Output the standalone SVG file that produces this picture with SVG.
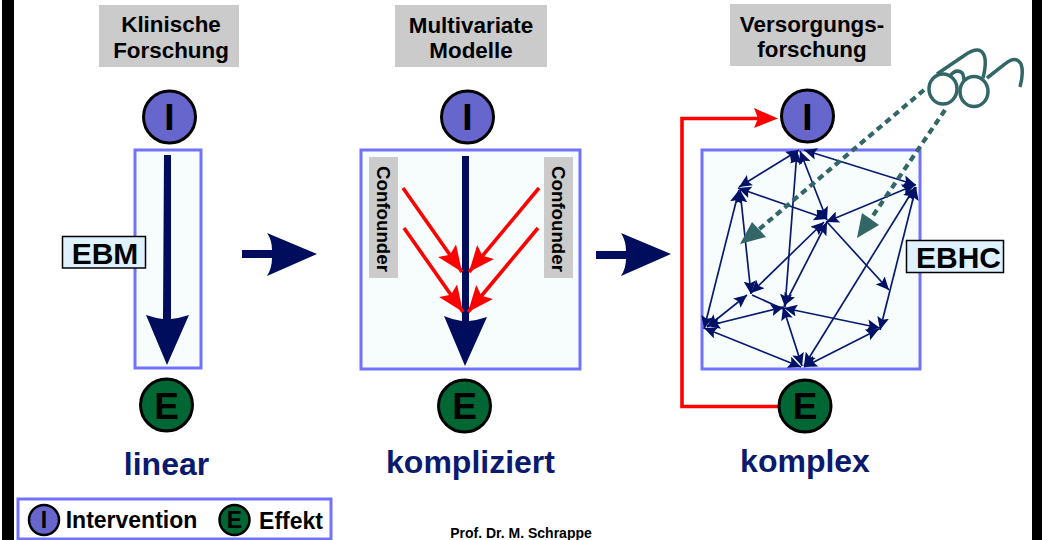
<svg xmlns="http://www.w3.org/2000/svg" width="1042" height="540" viewBox="0 0 1042 540">
<style>
text{font-family:"Liberation Sans",Arial,sans-serif;font-weight:700;text-anchor:middle;fill:#000}
.box{fill:#f7fdfd;stroke:#7272ff;stroke-width:3}
.hdr{fill:#cbcbcb}
.h{font-size:22.4px}
.i{fill:#6666cc;stroke:#000;stroke-width:3}
.e{fill:#006633;stroke:#000;stroke-width:3}
.cl{font-size:37px}
.big{font-size:32px;fill:#0a1a6e}
.tag{fill:#dff1ff;stroke:#000;stroke-width:1.5}
.tagt{font-size:30px}
.conf{font-size:18.7px}
.net line{stroke:#0a1a6e;stroke-width:1.7}
.bi{marker-start:url(#n);marker-end:url(#n)}
.si{marker-end:url(#n)}
.red{stroke:#f00;stroke-width:3.6;fill:none}
.dash{stroke:#336666;stroke-width:4.200;stroke-dasharray:6.500 4.500;fill:none}
</style>
<defs>
<marker id="n" markerUnits="userSpaceOnUse" markerWidth="14" markerHeight="12" refX="13" refY="6" orient="auto-start-reverse"><path d="M0 0L13 6L0 12L2.500 6Z" fill="#001166"/></marker>
<marker id="r" markerUnits="userSpaceOnUse" markerWidth="27" markerHeight="24" refX="26" refY="11" orient="auto"><path d="M0 0L26 11L0 22L5 11Z" fill="#f00"/></marker>
</defs>
<rect width="1042" height="540" fill="#fff"/>
<rect x="2" y="0" width="12" height="540" fill="#000"/>
<rect x="1032" y="0" width="10" height="540" fill="#000"/>

<g id="col1">
<rect class="hdr" x="99" y="5" width="140" height="62"/>
<text class="h" x="171" y="32">Klinische</text>
<text class="h" x="171" y="58">Forschung</text>
<rect class="box" x="135" y="150" width="66" height="218"/>
<path d="M164 155H171V319Q180 318 189 315L167 365L146 315Q155 318 163 319Z" fill="#000c5c"/>
<g id="i1"><circle class="i" cx="169.500" cy="117" r="26"/><text class="cl" x="169.500" y="130">I</text></g>
<g id="e1"><circle class="e" cx="166.500" cy="405" r="26"/><text class="cl" x="166.500" y="419">E</text></g>
<g id="ebm"><rect class="tag" x="62.500" y="236.500" width="83" height="31.500"/><text class="tagt" x="105" y="263.500">EBM</text></g>
<text class="big" x="166.500" y="475">linear</text>
</g>
<path id="arrow1" d="M242 250H272Q272 240 267 233L317 254L267 276Q272 268 272 258H242Z" fill="#000c5c"/>

<g id="col2">
<rect class="hdr" x="395" y="5" width="152" height="62"/>
<text class="h" x="471" y="33">Multivariate</text>
<text class="h" x="471" y="58">Modelle</text>
<rect class="box" x="361" y="150" width="219" height="219"/>
<rect class="hdr" x="369" y="157" width="29" height="121"/>
<rect class="hdr" x="544" y="157" width="29" height="121"/>
<text class="conf" transform="translate(377 219) rotate(90)">Confounder</text>
<text class="conf" transform="translate(552 219) rotate(90)">Confounder</text>
<path d="M462 156H469V321Q478 320 487 317L465 366L444 316Q453 320 462 321Z" fill="#000c5c"/>
<line class="red" x1="403" y1="188" x2="462" y2="272" marker-end="url(#r)"/>
<line class="red" x1="404" y1="228" x2="463" y2="312" marker-end="url(#r)"/>
<line class="red" x1="539" y1="188" x2="469" y2="272" marker-end="url(#r)"/>
<line class="red" x1="538" y1="228" x2="468" y2="312" marker-end="url(#r)"/>
<g id="i2"><circle class="i" cx="467.500" cy="117" r="26"/><text class="cl" x="467.500" y="130">I</text></g>
<g id="e2"><circle class="e" cx="464.500" cy="406" r="26"/><text class="cl" x="464.500" y="419">E</text></g>
<text class="big" x="470.500" y="473">kompliziert</text>
</g>
<path id="arrow2" d="M596 251H626Q626 241 621 233L671 254L621 276Q626 268 626 259H596Z" fill="#000c5c"/>

<g id="col3">
<rect class="hdr" x="730" y="4" width="161" height="62"/>
<text class="h" x="812" y="32">Versorgungs-</text>
<text class="h" x="812" y="57">forschung</text>
<rect class="box" x="702" y="150" width="218" height="219"/>
<g id="connectors" class="net">
<line class="bi" x1="739" y1="187" x2="799" y2="150"/>
<line class="bi" x1="797" y1="151" x2="785" y2="307"/>
<line class="bi" x1="800" y1="151" x2="827" y2="220"/>
<line class="bi" x1="804" y1="150" x2="916" y2="185"/>
<line class="bi" x1="738" y1="188" x2="827" y2="219"/>
<line class="bi" x1="740" y1="190" x2="751" y2="294"/>
<line class="bi" x1="739" y1="190" x2="704" y2="329"/>
<line class="bi" x1="826" y1="222" x2="915" y2="185"/>
<line class="si" x1="827" y1="222" x2="889" y2="290"/>
<line class="bi" x1="824" y1="222" x2="751" y2="293"/>
<line class="bi" x1="827" y1="222" x2="784" y2="306"/>
<line class="bi" x1="915" y1="187" x2="804" y2="366"/>
<line class="bi" x1="916" y1="187" x2="880" y2="330"/>
<line x1="752" y1="295" x2="783" y2="309"/>
<line class="bi" x1="747" y1="295" x2="707" y2="327"/>
<line class="bi" x1="784" y1="307" x2="707" y2="326"/>
<line class="bi" x1="784" y1="308" x2="880" y2="328"/>
<line class="bi" x1="783" y1="307" x2="802" y2="366"/>
<line class="bi" x1="704" y1="328" x2="801" y2="367"/>
<line class="bi" x1="879" y1="329" x2="804" y2="367"/>
</g>
<path class="red" d="M770 118.500H682V406.500H780" stroke-width="4.200"/>
<path d="M754 108L778 118.500L754 128L758 118.500Z" fill="#f00"/>
<g id="i3"><circle class="i" cx="807.500" cy="116" r="26"/><text class="cl" x="807.500" y="130">I</text></g>
<g id="e3"><circle class="e" cx="805" cy="406" r="26"/><text class="cl" x="805" y="419">E</text></g>
<g id="ebhc"><rect class="tag" x="906.500" y="240.500" width="97" height="32"/><text class="tagt" x="958.500" y="267.500">EBHC</text></g>
<text class="big" x="805" y="472">komplex</text>
<g id="glasses" fill="none" stroke="#336666" stroke-width="3.500">
<ellipse cx="943" cy="89" rx="14" ry="15"/><ellipse cx="974" cy="91.500" rx="14" ry="15"/>
<path d="M950 76Q955 69 961 72Q964 74 964 81"/>
<path d="M937 74L965 55Q977 47 982 52Q988 58 983 78"/>
<path d="M987 78L1005 64Q1016 55 1021 64Q1024 72 1020 87"/>
</g>
<path class="dash" d="M924 90L757 231"/>
<path class="dash" d="M945 110L870 220"/>
<path d="M752 222L766 237L740 244Z" fill="#336666"/>
<path d="M862 213L879 225L857 238Z" fill="#336666"/>
</g>

<g id="legend">
<rect x="18" y="499" width="313" height="40" fill="#fff" stroke="#7272ff" stroke-width="3"/>
<g id="li"><circle cx="44" cy="520" r="15" fill="#6666cc" stroke="#000" stroke-width="2.500"/><text x="44" y="528" font-size="23">I</text></g>
<text x="131.500" y="528" font-size="23">Intervention</text>
<g id="le"><circle cx="234.500" cy="520" r="15" fill="#006633" stroke="#000" stroke-width="2.500"/><text x="234.500" y="528" font-size="23">E</text></g>
<text x="291" y="529" font-size="23">Effekt</text>
</g>
<text x="521" y="538" font-size="14">Prof. Dr. M. Schrappe</text>
</svg>
